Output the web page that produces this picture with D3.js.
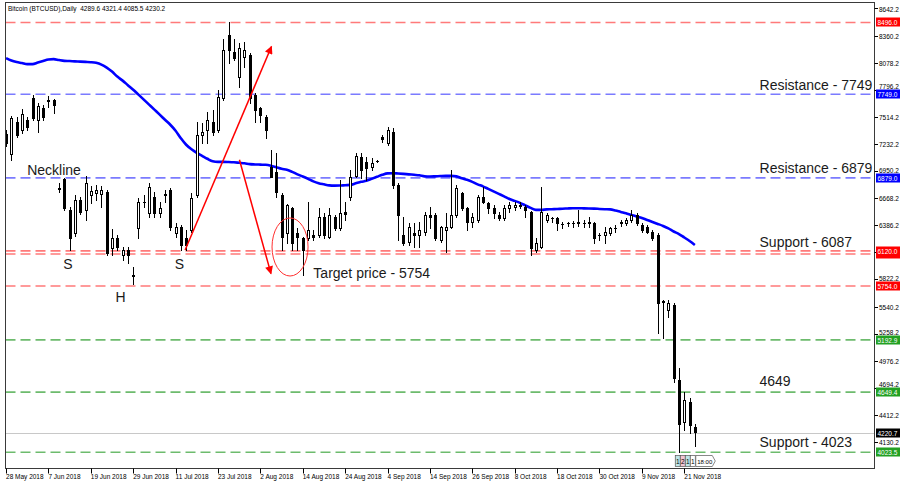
<!DOCTYPE html>
<html><head><meta charset="utf-8">
<script src="https://cdn.jsdelivr.net/npm/d3@7"></script>
<style>
body{margin:0;background:#fff;}
svg{display:block;}
text{font-family:"Liberation Sans",Arial,sans-serif;}
</style>
</head><body>
<svg id="c" width="914" height="498"></svg>
<script>
// ---------------- DATA ----------------
const title = "Bitcoin (BTCUSD),Daily  4289.6 4321.4 4085.5 4230.2";

const opens = [7338,7130,7464,7380,7484,7714,7484,7610,7683,7693,
6765,6869,6546,6306,6650,6546,6702,6723,6713,6733,
6149,6254,6076,6129,5857,6358,6629,6514,6681,6514,
6702,6754,6306,6368,6254,6337,6702,7328,7380,7464,
7380,7714,8371,8194,7933,8141,8162,7745,7610,7516,
6994,6942,6702,6306,6567,6306,6254,6254,6285,6285,
6473,6264,6473,6358,6525,6681,6900,7098,7046,6994,
7057,7307,7245,7359,6806,6285,6212,6306,6285,6316,
6494,6494,6233,6337,6368,6494,6723,6567,6420,6441,
6681,6619,6567,6494,6462,6567,6577,6598,6577,6525,
6129,6160,6441,6462,6462,6400,6410,6410,6420,6410,
6410,6410,6285,6285,6306,6358,6410,6410,6441,6494,
6389,6368,6316,6285,5586,5503,5555,4773,4334,4543,
4289.6];
const highs = [7380,7526,7516,7599,7516,7745,7662,7641,7735,7700,
6827,6880,6577,6702,6681,6900,6796,6807,6796,6754,
6348,6285,6160,6160,5951,6671,6702,6827,6733,6629,
6754,6775,6410,6389,6337,6723,7464,7453,7568,7589,
7797,8319,8496,8319,8287,8298,8183,7766,7620,7537,
7172,7140,6723,6610,6577,6358,6264,6629,6337,6567,
6514,6567,6494,6859,6629,6963,7140,7140,7098,7088,
7067,7328,7411,7401,6827,6473,6410,6410,6420,6525,
6577,6514,6380,6514,6963,6807,6733,6577,6514,6702,
6786,6629,6598,6525,6598,6629,6629,6629,6598,6535,
6254,6786,6514,6473,6473,6420,6420,6431,6546,6441,
6473,6420,6306,6368,6368,6389,6441,6462,6546,6514,
6410,6389,6337,6306,5607,5607,5576,4898,4648,4585,
4321.4];
const lows = [7213,7067,7307,7349,7380,7484,7359,7484,7620,7557,
6733,6546,6129,6275,6504,6441,6619,6650,6577,6076,
6076,6129,6024,5993,5774,6254,6577,6473,6473,6473,
6629,6337,6264,6129,6129,6316,6681,7245,7245,7328,
7359,7693,8079,8110,7829,8037,7662,7464,7464,7297,
6890,6681,6129,6202,6129,6129,5868,6233,6233,6264,
6254,6254,6337,6337,6441,6650,6890,6880,6859,6963,
7046,7255,7224,6775,6233,6181,6181,6160,6160,6285,
6358,6233,6212,6108,6358,6473,6546,6337,6368,6420,
6619,6514,6462,6441,6441,6525,6546,6567,6473,6076,
6108,6149,6420,6420,6337,6358,6379,6368,6379,6368,
6368,6202,6233,6202,6285,6316,6379,6389,6420,6389,
6316,6306,6233,5263,5211,5430,4752,4022,4251,4220,
4085.5];
const closes = [7245,7505,7328,7547,7411,7505,7630,7516,7693,7641,
6775,6567,6254,6650,6525,6827,6744,6754,6754,6097,
6254,6160,6129,6076,5868,6629,6631,6786,6514,6567,
6713,6368,6368,6181,6181,6671,7328,7359,7484,7359,
7724,8214,8214,8131,8235,8214,7714,7589,7537,7380,
6890,6733,6264,6598,6202,6264,6129,6337,6264,6473,
6285,6494,6358,6514,6504,6890,7109,6963,6984,7036,
7057,7286,7380,6806,6494,6202,6368,6285,6337,6494,
6473,6254,6368,6368,6494,6775,6567,6420,6473,6681,
6629,6567,6514,6462,6567,6598,6598,6588,6546,6149,
6202,6525,6494,6464,6410,6402,6412,6408,6410,6412,
6420,6254,6283,6316,6358,6360,6420,6441,6494,6410,
6337,6316,6254,5576,5597,5576,4794,4314,4564,4303,
4230.2];
const maValues = [8126,8100,8084,8074,8063,8063,8079,8095,8110,8115,
8105,8097,8095,8091,8089,8086,8083,8076,8058,8027,
7985,7933,7891,7844,7797,7745,7693,7641,7589,7537,
7484,7432,7370,7291,7224,7177,7140,7109,7078,7052,
7046,7046,7044,7041,7036,7031,7022,7019,7017,7015,
7005,6989,6973,6963,6942,6916,6893,6869,6843,6824,
6812,6801,6798,6799,6803,6806,6822,6838,6848,6869,
6890,6911,6926,6928,6925,6921,6916,6911,6906,6895,
6893,6895,6898,6900,6900,6895,6876,6859,6838,6812,
6791,6765,6739,6713,6687,6660,6640,6619,6593,6567,
6546,6546,6551,6553,6556,6558,6561,6563,6563,6562,
6561,6559,6556,6553,6551,6540,6525,6511,6494,6478,
6462,6441,6420,6400,6379,6353,6321,6295,6259,6222,
6181];

const dateLabels = ["28 May 2018","7 Jun 2018","19 Jun 2018","29 Jun 2018","11 Jul 2018",
"23 Jul 2018","2 Aug 2018","14 Aug 2018","24 Aug 2018","4 Sep 2018","14 Sep 2018",
"26 Sep 2018","8 Oct 2018","18 Oct 2018","30 Oct 2018","9 Nov 2018","21 Nov 2018"];
const barsPerLabel = 8;

const priceTicks = [8642.2,8360.2,8078.2,7796.2,7514.2,7232.2,6950.2,6668.2,6386.2,
6104.2,5822.2,5540.2,5258.2,4976.2,4694.2,4412.2,4130.2];

const levelValues = [8496.0, 7749.0, 6879.0, 6087.0, 6120.0, 5754.0, 5192.9, 4649.4, 4023.5];
const levelGroups = ["upper","resistance","resistance","support","support","target","lower","lower","lower"];
const currentPrice = 4220.7;

// ---------------- LAYOUT ----------------
const svg = d3.select("#c");
const P = {left:5.5, right:874.5, top:2.5, bottom:468.5};
const x = d3.scaleLinear().domain([-0.1, 163.9]).range([P.left, P.right]);
const y = d3.scaleLinear().domain([3855, 8704]).range([P.bottom, P.top]);

const lineColor = {upper:"#ff7a7a", resistance:"#7b7bff", support:"#ff7a7a", target:"#ff7a7a", lower:"#6dbb6d"};
const boxColor  = {upper:"#ff0000", resistance:"#0000ff", support:"#ff0000", target:"#ff0000", lower:"#22a022"};

const defs = svg.append("defs");
defs.append("clipPath").attr("id","clip")
  .append("rect").attr("x",P.left).attr("y",P.top).attr("width",P.right-P.left).attr("height",P.bottom-P.top);
defs.append("marker").attr("id","ah").attr("viewBox","0 0 10 10")
  .attr("refX",9).attr("refY",5)
  .attr("markerUnits","userSpaceOnUse").attr("orient","auto")
  .attr("markerWidth",10).attr("markerHeight",8)
  .append("path").attr("d","M0,0 L10,5 L0,10 z").attr("fill","#ff0000");

const plotG = svg.append("g").attr("clip-path","url(#clip)");

// current price line
plotG.append("line").attr("x1",P.left).attr("x2",P.right)
  .attr("y1",Math.round(y(currentPrice))+0.5).attr("y2",Math.round(y(currentPrice))+0.5)
  .attr("stroke","#c8c8c8").attr("stroke-width",1);

// level lines
const levels = levelValues.map((v,i)=>({v, g:levelGroups[i]}));
plotG.selectAll("line.lvl").data(levels).join("line").attr("class","lvl")
  .attr("x1",P.left).attr("x2",P.right)
  .attr("y1",d=>y(d.v)).attr("y2",d=>y(d.v))
  .attr("stroke",d=>lineColor[d.g]).attr("stroke-width",1.6)
  .attr("stroke-dasharray","10,5");

// MA
const ma = maValues.map((v,i)=>({i,v}));
plotG.append("path").datum(ma)
  .attr("d", d3.line().x(d=>x(d.i)).y(d=>y(d.v)).curve(d3.curveMonotoneX))
  .attr("fill","none").attr("stroke","#0000ff").attr("stroke-width",2.6);

// candles
const candles = opens.map((o,i)=>({i,o,h:highs[i],l:lows[i],c:closes[i]}));
const cx = d=>Math.round(x(d.i));
plotG.selectAll("line.wick").data(candles).join("line").attr("class","wick")
  .attr("x1",d=>cx(d)+0.5).attr("x2",d=>cx(d)+0.5)
  .attr("y1",d=>Math.round(y(d.h))).attr("y2",d=>Math.round(y(d.l))+1)
  .attr("stroke","#000").attr("stroke-width",1);
candles.forEach(d=>{
  const top = Math.round(y(Math.max(d.o,d.c)));
  const bot = Math.round(y(Math.min(d.o,d.c)));
  const c0 = cx(d);
  if (bot - top < 2) {
    plotG.append("rect").attr("x",c0-1).attr("y",top).attr("width",3).attr("height",Math.max(1,bot-top+1)).attr("fill","#000");
  } else if (d.c >= d.o) {
    plotG.append("rect").attr("x",c0-0.5).attr("y",top+0.5).attr("width",2).attr("height",bot-top)
      .attr("fill","#fff").attr("stroke","#000").attr("stroke-width",1);
  } else {
    plotG.append("rect").attr("x",c0-1).attr("y",top).attr("width",3).attr("height",bot-top+1).attr("fill","#000");
  }
});

// arrows and circle (annotation placed in data space)
const arrows = [
  {from:[33.8,6129], to:[50.1,8246]},
  {from:[44.05,7067], to:[50.0,5883]}
];
plotG.selectAll("line.arrow").data(arrows).join("line").attr("class","arrow")
  .attr("x1",d=>x(d.from[0])).attr("y1",d=>y(d.from[1]))
  .attr("x2",d=>x(d.to[0])).attr("y2",d=>y(d.to[1]))
  .attr("stroke","#ff0000").attr("stroke-width",1.5).attr("marker-end","url(#ah)");
plotG.append("ellipse").attr("cx",x(53.6)).attr("cy",y(6160))
  .attr("rx",x(3.4)-x(0)).attr("ry",y(6160-302)-y(6160))
  .attr("fill","none").attr("stroke","#ff3030").attr("stroke-width",1);

// annotation texts
const ann = [
  {t:"Neckline", b:4.0, v:6879, dy:-3, anchor:"start"},
  {t:"S", b:11.7, v:6129, dy:19, anchor:"middle"},
  {t:"H", b:21.6, v:5754, dy:16, anchor:"middle"},
  {t:"S", b:32.7, v:6129, dy:19, anchor:"middle"},
  {t:"Target price - 5754", b:58.0, v:5754, dy:-8, anchor:"start"},
  {t:"Resistance - 7749", b:142.2, v:7749, dy:-4, anchor:"start"},
  {t:"Resistance - 6879", b:142.2, v:6879, dy:-5, anchor:"start"},
  {t:"Support - 6087", b:142.2, v:6120, dy:-4, anchor:"start"},
  {t:"4649", b:142.2, v:4649.4, dy:-6, anchor:"start"},
  {t:"Support - 4023", b:142.2, v:4023.5, dy:-5, anchor:"start"}
];
svg.selectAll("text.ann").data(ann).join("text").attr("class","ann")
  .attr("x",d=>x(d.b)).attr("y",d=>y(d.v)+d.dy)
  .attr("text-anchor",d=>d.anchor)
  .attr("font-size",14).attr("fill","#1a1a1a").text(d=>d.t);

// frame
svg.append("rect").attr("x",P.left).attr("y",P.top).attr("width",P.right-P.left).attr("height",P.bottom-P.top)
  .attr("fill","none").attr("stroke","#3a3a3a").attr("stroke-width",1);

// title
svg.append("text").attr("x",8).attr("y",10.5).attr("font-size",6.5).style("white-space","pre")
  .attr("fill","#000").text(title);

// x axis ticks
const xt = dateLabels.map((t,k)=>({t, b:k*barsPerLabel}));
svg.selectAll("line.xt").data(xt).join("line").attr("class","xt")
  .attr("x1",d=>Math.round(x(d.b))+0.5).attr("x2",d=>Math.round(x(d.b))+0.5)
  .attr("y1",P.bottom).attr("y2",P.bottom+5).attr("stroke","#000");
svg.selectAll("text.xt").data(xt).join("text").attr("class","xt")
  .attr("x",d=>Math.max(P.left,x(d.b))).attr("y",478.5)
  .attr("font-size",6.5).attr("fill","#000").text(d=>d.t);

// y axis ticks (labels fully hidden behind a level box are not drawn, as in the reference;
// labels partly covered are lifted just above the box)
const boxes = levels.concat([{v:currentPrice, g:"current"}]);
const boxYs = boxes.map(b=>Math.round(y(b.v)));
const hidden = p => boxYs.some(by => Math.abs(by - y(p)) < 4);
function labelY(p){
  let ty = y(p)+3.2;
  boxYs.forEach(by=>{
    const boxTop = by-4.5, boxBot = by+4.5;
    if (ty > boxTop && ty-5 < boxBot && y(p) < by) ty = boxTop - 0.3;
  });
  return ty;
}
svg.selectAll("line.yt").data(priceTicks).join("line").attr("class","yt")
  .attr("x1",P.right).attr("x2",P.right+3.5)
  .attr("y1",d=>Math.round(y(d))+0.5).attr("y2",d=>Math.round(y(d))+0.5).attr("stroke","#000");
svg.selectAll("text.yt").data(priceTicks.filter(p=>!hidden(p))).join("text").attr("class","yt")
  .attr("x",P.right+4.5).attr("y",d=>labelY(d))
  .attr("font-size",6.5).attr("fill","#000").text(d=>d.toFixed(1));

// level price boxes (6087 box sits under the 6120 box)
const bg = svg.selectAll("g.box").data(boxes).join("g").attr("class","box")
  .attr("transform",d=>`translate(${P.right+1.5},${Math.round(y(d.v))})`);
bg.append("rect").attr("x",0).attr("y",-4.5).attr("width",24).attr("height",9)
  .attr("fill",d=>d.g==="current"?"#000":boxColor[d.g]);
bg.filter(d=>d.v!==6087.0).append("text").attr("x",1.5).attr("y",2.5).attr("font-size",6.5).attr("fill","#fff")
  .text(d=>d.v.toFixed(1));

// small status boxes at bottom
const statusLabels = ["1","2","1","1"];
const statusFill = ["#bfe6e6","#f2c6d0","#bfe6e6","#fff"];
const sb = svg.append("g").attr("transform",`translate(${x(126.3)},455.5)`);
statusLabels.forEach((s,k)=>{
  sb.append("rect").attr("x",k*5).attr("y",0).attr("width",5).attr("height",11)
    .attr("fill",statusFill[k]).attr("stroke","#555").attr("stroke-width",0.7);
  sb.append("text").attr("x",k*5+2.5).attr("y",8.3).attr("text-anchor","middle")
    .attr("font-size",6.5).attr("fill","#000").text(s);
});
sb.append("path").attr("d","M20.5,0 H37 L40,5.5 L37,11 H20.5 Z").attr("fill","#fff").attr("stroke","#555").attr("stroke-width",0.7);
sb.append("text").attr("x",22).attr("y",8.3).attr("font-size",6).attr("fill","#000").text("18:00");
</script>
</body></html>
